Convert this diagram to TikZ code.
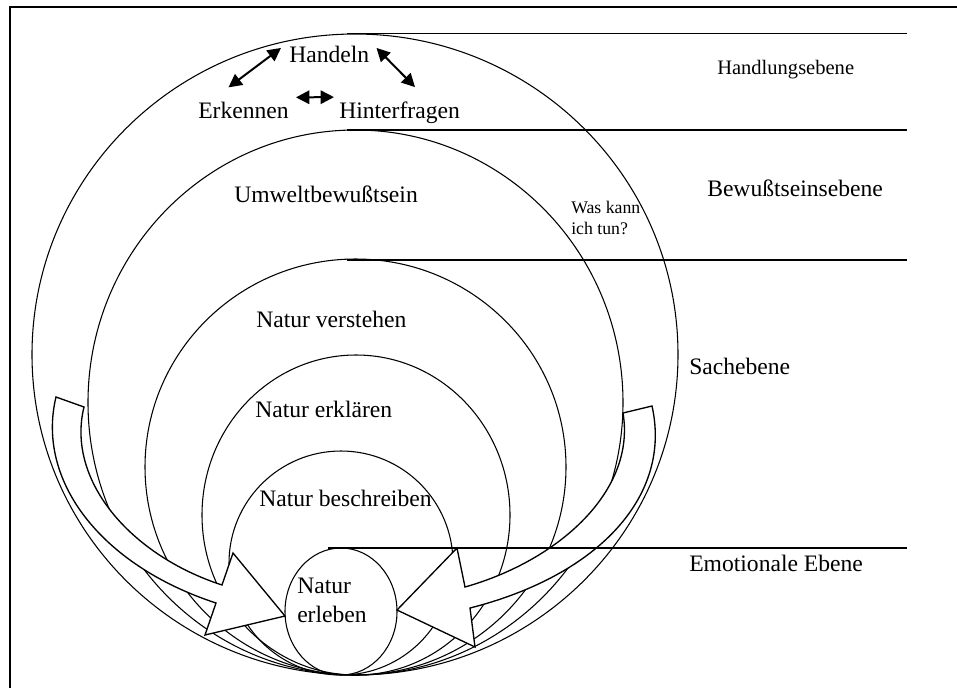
\documentclass[tikz,border=0pt]{standalone}
\usepackage{fontspec}
\setmainfont{Liberation Serif}
\usetikzlibrary{arrows.meta}

\begin{document}
\begin{tikzpicture}[
      x=0.75pt, y=-0.75pt,
      ring/.style={line width=0.8pt},
      level/.style={line width=1pt},
      txt/.style={inner sep=0pt, anchor=base west, font=\fontsize{17.7}{21.75}\selectfont},
      sidetxt/.style={inner sep=0pt, anchor=base west, font=\fontsize{15.4}{18}\selectfont},
      notetxt/.style={inner sep=0pt, anchor=north west, align=left, font=\fontsize{13.3}{15.75}\selectfont},
      both/.style={line width=1.5pt, {Triangle[length=10pt,width=10pt]}-{Triangle[length=10pt,width=10pt]}},
      blockarrow/.style={draw, fill=white, line width=1pt, line join=miter}
    ]
    \useasboundingbox (0,0) rectangle (957,687);
    \clip (0,0) rectangle (957,687);
    \draw[line width=1.5pt] (10,7) rectangle (990,720);

    \draw[ring] (355,354.5) ellipse [x radius=323, y radius=320.5];
    \draw[ring] (355.5,402.5) ellipse [x radius=267.5, y radius=272.5];
    \draw[ring] (355.5,467) ellipse [x radius=210.5, y radius=208];
    \draw[ring] (356,515) ellipse [x radius=154, y radius=160];
    \draw[ring] (341,563) ellipse [x radius=112, y radius=112];
    \draw[ring] (341,611.5) ellipse [x radius=56, y radius=63.5];

    \draw[blockarrow] (56,397) .. controls (36,480) and (100,565) .. (216,603) -- (205,635) -- (285,616)
      -- (233,553) -- (222,585) .. controls (130,555) and (66,480) .. (84,407) -- cycle;
    \draw[blockarrow] (652,406) .. controls (672,495) and (600,575) .. (470,608) -- (475,647) -- (397,610)
      -- (457,548) -- (465,587) .. controls (560,560) and (636,490) .. (623,413) -- cycle;

    \draw[level] (347,33.5) -- (907,33.5);
    \draw[level] (347,130) -- (907,130);
    \draw[level] (347,260) -- (907,260);
    \draw[level] (328,548) -- (907,548);

    \node[txt] (handeln) at (289,62) {Handeln};
    \node[txt] (erkennen) at (198,118) {Erkennen};
    \node[txt] (hinterfragen) at (339,118) {Hinterfragen};
    \node[txt] (umwelt) at (234,202) {Umweltbewußtsein};
    \node[txt] (verstehen) at (256,327) {Natur verstehen};
    \node[txt] (erklaeren) at (255,417) {Natur erklären};
    \node[txt] (beschreiben) at (259,506) {Natur beschreiben};
    \node[txt, anchor=north west, align=left] (erleben) at (297,578) {Natur\\erleben};
    \node[notetxt] (tun) at (571,201) {Was kann\\ich tun?};

    \node[sidetxt] (handlung) at (717,74) {Handlungsebene};
    \node[txt] (bewusst) at (707,196) {Bewußtseinsebene};
    \node[txt] (sache) at (689,374) {Sachebene};
    \node[txt] (emotion) at (689,571) {Emotionale Ebene};

    \draw[both] ([shift={(-15,-14)}]erkennen.north) -- ([shift={(-8,-6)}]handeln.west);
    \draw[both] ([shift={(7,-6)}]handeln.east) -- ([shift={(15.5,-14)}]hinterfragen.north);
    \draw[both] ([shift={(7,-4)}]erkennen.north east) -- ([shift={(-5,-4)}]hinterfragen.north west);
  \end{tikzpicture}
\end{document}
